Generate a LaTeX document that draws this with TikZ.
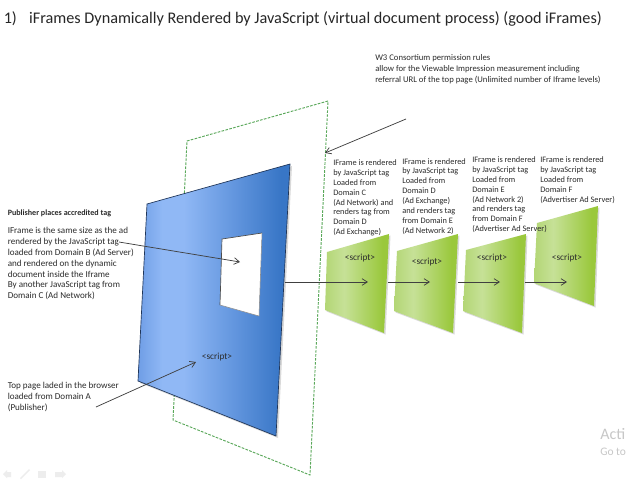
\documentclass[tikz,border=0pt]{standalone}
\usepackage{fontspec}
\setmainfont{Carlito}
\usetikzlibrary{arrows.meta}
\definecolor{txt}{HTML}{2B2B2B}
\definecolor{greenD}{HTML}{5AA85A}
\definecolor{bEdge}{HTML}{1F3558}
\definecolor{bA}{HTML}{6F9EE6}
\definecolor{bB}{HTML}{90B8F5}
\definecolor{bM}{HTML}{6497DF}
\definecolor{bC}{HTML}{3876C6}
\definecolor{gA}{HTML}{B3D675}
\definecolor{gB}{HTML}{C6E197}
\definecolor{gC}{HTML}{9AC83C}
\pgfdeclarehorizontalshading{blueface}{100bp}{color(0bp)=(bA);color(25bp)=(bA);color(33bp)=(bB);color(40bp)=(bB);color(56bp)=(bM);color(72bp)=(bC);color(100bp)=(bC)}
\pgfdeclarehorizontalshading{greenface}{100bp}{color(0bp)=(gA);color(25bp)=(gA);color(40bp)=(gB);color(70bp)=(gC);color(100bp)=(gC)}
\tikzset{
  lbl/.style={text=txt,anchor=north west,inner sep=0pt,align=left,font=\fontsize{6.8}{8.15}\selectfont},
  wlbl/.style={lbl,font=\fontsize{6.5}{8.2}\selectfont},
  ifr/.style={lbl,font=\fontsize{6.25}{7.4}\selectfont},
  scr/.style={text=txt,inner sep=0pt,font=\fontsize{7}{8}\selectfont},
  conn/.style={draw=black!75,line width=0.55pt,-{Straight Barb[length=4pt,width=5pt]}},
  dashgreen/.style={draw=greenD,line width=0.7pt,dash pattern=on 2pt off 1pt},
  greenpanel/.style={shading=greenface,draw=none},
  dropshade/.style={fill=black,opacity=0.15,draw=none},
  ctrlmark/.style={fill=black!7,draw=none}
}
\begin{document}
\begin{tikzpicture}[x=0.75pt,y=-0.75pt]
\useasboundingbox (0,0) rectangle (628,483);
\fill[white] (0,0) rectangle (628,483);
% title
\node[anchor=west,inner sep=0pt,text=black!85,font=\fontsize{12.16}{14}\selectfont] (title) at (3.5,18.5) {1)\hspace{9.2pt}iFrames Dynamically Rendered by JavaScript (virtual document process) (good iFrames)};
% dashed back frame
\draw[dashgreen] (328,101) -- (187,141) -- (173,420) -- (310,475) -- cycle;
% blue page
\coordinate (bTL) at (147,204); \coordinate (bTR) at (290,164);
\coordinate (bBR) at (276,436); \coordinate (bBL) at (138,381);
\fill[dropshade] (149,206) -- (292,166) -- (278,438) -- (140,383) -- cycle;
\path[shading=blueface] (bTL) -- (bTR) -- (bBR) -- (bBL) -- cycle;
\draw[bEdge,line width=0.5pt,line join=miter] (bTL) -- (bTR) -- (bBR) -- (bBL) -- cycle;
% white window
\coordinate (wTL) at (222,239); \coordinate (wTR) at (262,233);
\coordinate (wBR) at (259,316); \coordinate (wBL) at (220,305);
\fill[white] (wTL) -- (wTR) -- (wBR) -- (wBL) -- cycle;
\draw[black!70,line width=0.5pt] (wBL) -- (wTL) -- (wTR);
\draw[black!45,line width=0.4pt] (wBL) -- (wBR) -- (wTR);
% green panels
\fill[dropshade] (328.5,253.5) -- (390.5,235.5) -- (385.5,334.5) -- (326.5,311.5) -- cycle;
\path[greenpanel] (327,252) -- (389,234) -- (384,333) -- (325,310) -- cycle;
\fill[dropshade] (398.5,252.5) -- (459.5,235.5) -- (454.5,334.5) -- (395.5,312.5) -- cycle;
\path[greenpanel] (397,251) -- (458,234) -- (453,333) -- (394,311) -- cycle;
\fill[dropshade] (467.5,251.5) -- (527.5,235.5) -- (523.5,334.5) -- (464.5,312.5) -- cycle;
\path[greenpanel] (466,250) -- (526,234) -- (522,333) -- (463,311) -- cycle;
\fill[dropshade] (538.5,224.5) -- (599.5,207.5) -- (595.5,307.5) -- (535.5,284.5) -- cycle;
\path[greenpanel] (537,223) -- (598,206) -- (594,306) -- (534,283) -- cycle;
% script labels
\node[scr] (s0) at (217,357) {<script>};
\node[scr] (s1) at (360,258) {<script>};
\node[scr] (s2) at (427,262) {<script>};
\node[scr] (s3) at (492,258) {<script>};
\node[scr] (s4) at (567,258) {<script>};
% texts
\node[lbl,font=\fontsize{6.05}{7}\selectfont\bfseries] (pub) at (7.5,209.5) {Publisher places accredited tag};
\node[lbl] (ifd) at (7.5,227) {IFrame  is the same size as the ad\\rendered by the JavaScript tag\\loaded from Domain B (Ad Server)\\and rendered on the dynamic\\document inside the Iframe\\By another JavaScript tag from\\Domain C (Ad Network)};
\node[lbl] (top) at (7.5,382) {Top page laded in the browser\\loaded from Domain A\\(Publisher)};
\node[wlbl] (w3) at (375,54) {W3 Consortium permission rules\\allow for  the Viewable Impression measurement including\\referral URL of the top page (Unlimited number of Iframe levels)};
\node[ifr] (i1) at (333,159.5) {IFrame is rendered\\by JavaScript tag\\Loaded from\\Domain C\\(Ad Network) and\\renders tag from\\Domain D\\(Ad Exchange)};
\node[ifr] (i2) at (402,158) {IFrame is rendered\\by JavaScript tag\\Loaded from\\Domain D\\(Ad Exchange)\\and renders tag\\from Domain E\\(Ad Network 2)};
\node[ifr] (i3) at (472,156.5) {IFrame is rendered\\by JavaScript tag\\Loaded from\\Domain E\\(Ad Network 2)\\and renders tag\\from Domain F\\(Advertiser Ad Server)};
\node[ifr] (i4) at (540,156.5) {IFrame is rendered\\by JavaScript tag\\Loaded from\\Domain F\\(Advertiser Ad Server)};
% connector ends
\coordinate (a0) at (284.5,282); \coordinate (a1) at (368,282);
\coordinate (b0) at (388,282); \coordinate (b1) at (430,282);
\coordinate (c0) at (458,282); \coordinate (c1) at (500,282);
\coordinate (d0) at (525,282); \coordinate (d1) at (567,282);
\coordinate (e0) at (119,242); \coordinate (e1) at (240,262);
\coordinate (f0) at (96,407);  \coordinate (f1) at (196,362);
\coordinate (g0) at (406,119); \coordinate (g1) at (325,153);
\foreach \p/\q in {a0/a1,b0/b1,c0/c1,d0/d1,e0/e1,f0/f1,g0/g1} \draw[conn] (\p) -- (\q);
% watermark
\node[anchor=west,inner sep=0pt,text=black!22,font=\fontsize{12}{13}\selectfont] (act) at (600,434) {Acti};
\node[anchor=west,inner sep=0pt,text=black!22,font=\fontsize{8.6}{9}\selectfont] (goto) at (600,452) {Go to};
% slide show controls
\fill[ctrlmark] (3,474) -- (7,470) -- (7,472) -- (11,472) -- (11,477) -- (7,477) -- (7,478) -- cycle;
\fill[ctrlmark] (20,478) -- (29,469) -- (30,470) -- (21,479) -- cycle;
\fill[ctrlmark] (38,471) rectangle (46,478);
\fill[ctrlmark] (66,474) -- (62,470) -- (62,472) -- (55,472) -- (55,477) -- (62,477) -- (62,478) -- cycle;
\end{tikzpicture}
\end{document}
